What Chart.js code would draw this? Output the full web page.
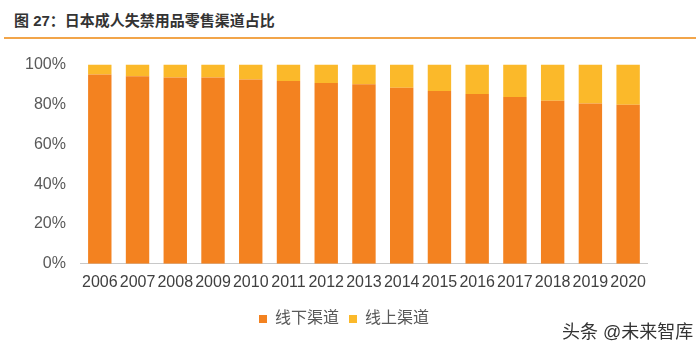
<!DOCTYPE html>
<html>
<head>
<meta charset="utf-8">
<script src="https://cdn.jsdelivr.net/npm/chart.js"></script>
<style>
  body { margin: 0; background: #fff; font-family: "Liberation Sans", "Noto Sans CJK SC", sans-serif; }
  #wrap { position: relative; width: 700px; height: 347px; }
  #title { position: absolute; left: 14px; top: 9px; font-size: 15px; font-weight: bold; color: #333; }
  #rule { position: absolute; left: 4px; right: 4px; top: 37px; height: 2px; background: #f2a54a; }
  #mark { position: absolute; left: 562px; top: 317px; font-size: 18px; color: #333; }
  #box { position: absolute; left: 0; top: 40px; width: 700px; height: 307px; }
</style>
</head>
<body>
<div id="wrap">
  <div id="title">图 27：日本成人失禁用品零售渠道占比</div>
  <div id="rule"></div>
  <div id="box"><canvas id="chart"></canvas></div>
  <div id="mark">头条 @未来智库</div>
</div>
<script>
// Data (percent)
const years = ['2006', '2007', '2008', '2009', '2010', '2011', '2012', '2013', '2014', '2015', '2016', '2017', '2018', '2019', '2020'];
const offline = [95.0, 94.2, 93.5, 93.5, 92.5, 91.8, 90.8, 90.1, 88.4, 86.7, 85.2, 83.7, 81.8, 80.5, 79.9];
const online = [5.0, 5.8, 6.5, 6.5, 7.5, 8.2, 9.2, 9.9, 11.6, 13.3, 14.8, 16.3, 18.2, 19.5, 20.1];
const yTicks = [0, 20, 40, 60, 80, 100];

const font = { family: '"Liberation Sans", "Noto Sans CJK SC", sans-serif', size: 16 };

new Chart(document.getElementById('chart'), {
  type: 'bar',
  data: {
    labels: years,
    datasets: [
      { label: '线下渠道', data: offline, backgroundColor: '#f38220', barPercentage: 0.62, categoryPercentage: 1 },
      { label: '线上渠道', data: online, backgroundColor: '#fbb92a', barPercentage: 0.62, categoryPercentage: 1 }
    ]
  },
  options: {
    responsive: true,
    maintainAspectRatio: false,
    animation: false,
    // symmetric-ish padding so the legend centres where the original's does
    layout: { padding: { left: 26, right: 38, top: 21, bottom: 10 } },
    plugins: {
      tooltip: { enabled: false },
      legend: {
        position: 'bottom',
        labels: { boxWidth: 8, boxHeight: 8, color: '#595959', font: font, padding: 10 }
      }
    },
    scales: {
      x: {
        stacked: true,
        grid: { display: false, drawTicks: false },
        border: { color: '#c8c8c8' },
        ticks: { color: '#404040', font: font, padding: 9, maxRotation: 0, autoSkip: false }
      },
      y: {
        stacked: true,
        min: 0,
        max: 100,
        afterBuildTicks: axis => { axis.ticks = yTicks.map(v => ({ value: v })); },
        afterFit: axis => { axis.width -= 16; },
        grid: { display: false, drawTicks: false },
        border: { display: false },
        ticks: { color: '#595959', font: font, padding: 15, callback: v => v + '%' }
      },
      // empty right axis, only used as a spacer
      yRight: {
        position: 'right',
        min: 0,
        max: 100,
        afterFit: axis => { axis.width = 15; },
        grid: { display: false, drawTicks: false },
        border: { display: false },
        ticks: { display: false }
      }
    }
  }
});
</script>
</body>
</html>
